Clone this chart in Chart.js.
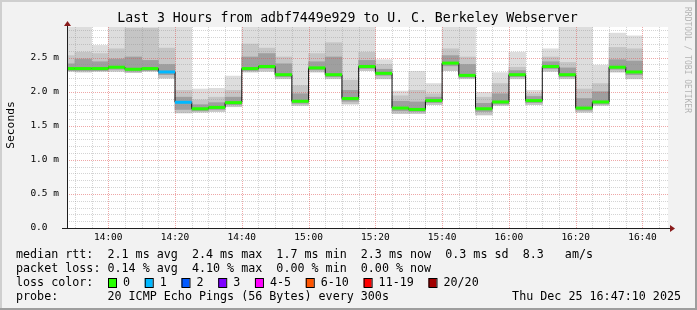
<!DOCTYPE html>
<html>
<head>
<meta charset="utf-8">
<script src="https://cdn.jsdelivr.net/npm/chart.js@4.4.1/dist/chart.umd.min.js"></script>
<style>
  html, body { margin: 0; padding: 0; background: #f2f2f2; }
  #wrap { width: 697px; height: 310px; }
</style>
</head>
<body>
<div id="wrap"><canvas id="smokeChart" width="697" height="310"></canvas></div>
<script>
// 5 minute bins (start of each bin)
var binTimes = ["13:45", "13:50", "13:55", "14:00", "14:05", "14:10", "14:15", "14:20", "14:25", "14:30",
  "14:35", "14:40", "14:45", "14:50", "14:55", "15:00", "15:05", "15:10", "15:15", "15:20",
  "15:25", "15:30", "15:35", "15:40", "15:45", "15:50", "15:55", "16:00", "16:05", "16:10",
  "16:15", "16:20", "16:25", "16:30", "16:35"];

// median rtt, ms
var medianRtt = [2.34, 2.34, 2.34, 2.36, 2.33, 2.34, 2.29, 1.845, 1.75, 1.77,
  1.84, 2.34, 2.37, 2.25, 1.86, 2.35, 2.25, 1.90, 2.37, 2.27,
  1.76, 1.74, 1.87, 2.42, 2.24, 1.75, 1.85, 2.25, 1.87, 2.37,
  2.25, 1.76, 1.85, 2.36, 2.29];

// smoke: spread of the 20 pings per bin, ms
var pingMax = [3.2, 3.2, 2.68, 3.2, 3.2, 3.2, 3.2, 3.2, 2.04, 2.05,
  2.23, 3.2, 3.2, 3.2, 3.2, 3.2, 3.2, 3.2, 3.2, 2.47,
  2.01, 2.30, 2.12, 3.2, 3.2, 1.99, 2.28, 2.58, 2.02, 2.63,
  3.2, 3.2, 2.39, 2.86, 2.82];
var pingUpper = [2.53, 2.58, 2.56, 2.63, 2.93, 2.93, 2.64, 2.02, 1.88, 1.92,
  2.02, 2.70, 2.64, 2.51, 2.09, 2.56, 2.72, 2.17, 2.58, 2.40,
  1.94, 2.02, 1.97, 2.63, 2.51, 1.92, 2.12, 2.36, 1.97, 2.51,
  2.43, 2.04, 2.12, 2.65, 2.63];
var pingNear = [2.41, 2.48, 2.44, 2.48, 2.51, 2.46, 2.40, 1.92, 1.81, 1.84,
  1.92, 2.51, 2.56, 2.41, 1.97, 2.44, 2.51, 2.02, 2.46, 2.33,
  1.86, 1.85, 1.92, 2.53, 2.40, 1.83, 1.97, 2.31, 1.93, 2.44,
  2.35, 1.90, 2.00, 2.47, 2.45];
var pingLow = [2.31, 2.31, 2.31, 2.33, 2.30, 2.31, 2.25, 1.74, 1.72, 1.74,
  1.81, 2.31, 2.34, 2.22, 1.83, 2.32, 2.22, 1.86, 2.34, 2.24,
  1.72, 1.71, 1.84, 2.38, 2.21, 1.71, 1.82, 2.22, 1.84, 2.34,
  2.22, 1.73, 1.82, 2.33, 2.25];
var pingMin = [2.30, 2.29, 2.30, 2.30, 2.28, 2.30, 2.20, 1.69, 1.70, 1.71,
  1.78, 2.29, 2.30, 2.19, 1.80, 2.29, 2.19, 1.82, 2.31, 2.19,
  1.68, 1.68, 1.81, 2.31, 2.19, 1.66, 1.80, 2.19, 1.81, 2.30,
  2.19, 1.70, 1.80, 2.29, 2.19];

// lost pings per bin (of 20)
var lossCount = [0, 0, 0, 0, 0, 0, 1, 1, 0, 0,
  0, 0, 0, 0, 0, 0, 0, 0, 0, 0,
  0, 0, 0, 0, 0, 0, 0, 0, 0, 0,
  0, 0, 0, 0, 0];

var lossLabels = ["0", "1", "2", "3", "4-5", "6-10", "11-19", "20/20"];
var lossColors = ["#26ff00", "#00b8ff", "#0059ff", "#7e00ff", "#ff00ff", "#ff5500", "#ff0000", "#a10000"];

var xTickLabels = ["14:00", "14:20", "14:40", "15:00", "15:20", "15:40", "16:00", "16:20", "16:40"];
var yTickValues = [0, 0.5, 1, 1.5, 2, 2.5];
var yTickLabels = ["0.0  ", "0.5 m", "1.0 m", "1.5 m", "2.0 m", "2.5 m"];

var MONO = "'DejaVu Sans Mono', monospace";

function toMinutes(t) {
  var p = t.split(":");
  return (parseInt(p[0], 10) - 13) * 60 + parseInt(p[1], 10);
}

function lossIndex(n) {
  if (n <= 3) return n;
  if (n <= 5) return 4;
  if (n <= 10) return 5;
  if (n <= 19) return 6;
  return 7;
}

var binCenters = binTimes.map(function (t) { return toMinutes(t) + 2.5; });
var xTickValues = xTickLabels.map(toMinutes);

function band(lo, hi) {
  return binCenters.map(function (x, i) { return { x: x, y: [lo[i], hi[i]] }; });
}

function smokeBand(lo, hi, color, order) {
  return {
    type: "bar",
    data: band(lo, hi),
    backgroundColor: color,
    borderWidth: 0,
    grouped: false,
    barPercentage: 1,
    categoryPercentage: 1,
    clip: 0,
    order: order
  };
}

// background, frame, white canvas
var framePlugin = {
  id: "frame",
  beforeDraw: function (chart) {
    var ctx = chart.ctx, a = chart.chartArea;
    ctx.save();
    ctx.fillStyle = "#f2f2f2";
    ctx.fillRect(0, 0, chart.width, chart.height);
    ctx.fillStyle = "#cfcfcf";
    ctx.fillRect(0, 0, chart.width, 2);
    ctx.fillRect(0, 0, 2, chart.height);
    ctx.fillStyle = "#9e9e9e";
    ctx.fillRect(0, chart.height - 2, chart.width, 2);
    ctx.fillRect(chart.width - 2, 0, 2, chart.height);
    ctx.fillStyle = "#ffffff";
    ctx.fillRect(a.left, a.top, a.right - a.left, a.bottom - a.top);
    ctx.restore();
  }
};

function dotted(ctx, x1, y1, x2, y2, color) {
  ctx.strokeStyle = color;
  ctx.beginPath();
  ctx.moveTo(x1, y1);
  ctx.lineTo(x2, y2);
  ctx.stroke();
}

// dotted grid over the smoke, under the median line
var gridPlugin = {
  id: "rrdgrid",
  afterDatasetDraw: function (chart, args) {
    if (args.index !== 2) return;
    var ctx = chart.ctx, a = chart.chartArea;
    var xs = chart.scales.x, ys = chart.scales.y;
    ctx.save();
    ctx.lineWidth = 1;
    ctx.setLineDash([1, 1]);
    var m, px, v, py;
    for (m = 50; m < 228; m += 5) {
      if (m % 20 === 0) continue;
      px = Math.round(xs.getPixelForValue(m)) + 0.5;
      dotted(ctx, px, a.top, px, a.bottom, "rgba(143,143,143,0.38)");
    }
    for (v = 1; v < 30; v++) {
      if (v % 5 === 0) continue;
      py = Math.round(ys.getPixelForValue(v / 10)) + 0.5;
      dotted(ctx, a.left, py, a.right, py, "rgba(143,143,143,0.38)");
    }
    xTickValues.forEach(function (t) {
      px = Math.round(xs.getPixelForValue(t)) + 0.5;
      dotted(ctx, px, a.top, px, a.bottom, "rgba(222,79,79,0.5)");
    });
    yTickValues.forEach(function (t) {
      if (t === 0) return;
      py = Math.round(ys.getPixelForValue(t)) + 0.5;
      dotted(ctx, a.left, py, a.right, py, "rgba(222,79,79,0.5)");
    });
    ctx.restore();
  },
  afterDatasetsDraw: function (chart) {
    var ctx = chart.ctx, a = chart.chartArea;
    var x0 = Math.round(a.left) + 0.5, y0 = Math.round(a.bottom) + 0.5;
    ctx.save();
    ctx.strokeStyle = "#1f1f1f";
    ctx.lineWidth = 1;
    ctx.beginPath();
    ctx.moveTo(a.left - 5, y0);
    ctx.lineTo(a.right + 3, y0);
    ctx.moveTo(x0, a.bottom + 1);
    ctx.lineTo(x0, a.top - 3);
    ctx.stroke();
    ctx.fillStyle = "#8a1c1c";
    ctx.beginPath();
    ctx.moveTo(a.right + 7, y0);
    ctx.lineTo(a.right + 2, y0 - 3.5);
    ctx.lineTo(a.right + 2, y0 + 3.5);
    ctx.closePath();
    ctx.fill();
    ctx.beginPath();
    ctx.moveTo(x0, a.top - 6);
    ctx.lineTo(x0 - 3.5, a.top - 1);
    ctx.lineTo(x0 + 3.5, a.top - 1);
    ctx.closePath();
    ctx.fill();
    ctx.restore();
  }
};

// title, unit, watermark and the smokeping legend
var textPlugin = {
  id: "texts",
  afterDraw: function (chart) {
    var ctx = chart.ctx;
    ctx.save();
    ctx.fillStyle = "#000";
    ctx.textBaseline = "middle";

    ctx.font = "13.2px " + MONO;
    ctx.textAlign = "center";
    ctx.fillText("Last 3 Hours from adbf7449e929 to U. C. Berkeley Webserver", 347.5, 19);

    ctx.font = "11.3px " + MONO;
    ctx.save();
    ctx.translate(11, 125);
    ctx.rotate(-Math.PI / 2);
    ctx.fillText("Seconds", 0, 0);
    ctx.restore();

    ctx.save();
    ctx.font = "8px " + MONO;
    ctx.fillStyle = "#b4b4b4";
    ctx.translate(687, 60);
    ctx.rotate(Math.PI / 2);
    ctx.fillText("RRDTOOL / TOBI OETIKER", 0, 0);
    ctx.restore();

    ctx.font = "11.7px " + MONO;
    ctx.textAlign = "left";
    ctx.fillText("median rtt:  2.1 ms avg  2.4 ms max  1.7 ms min  2.3 ms now  0.3 ms sd  8.3   am/s", 16, 254.5);
    ctx.fillText("packet loss: 0.14 % avg  4.10 % max  0.00 % min  0.00 % now", 16, 268.5);
    ctx.fillText("loss color:", 16, 282.5);
    ctx.fillText("probe:       20 ICMP Echo Pings (56 Bytes) every 300s", 16, 296.5);
    ctx.textAlign = "right";
    ctx.fillText("Thu Dec 25 16:47:10 2025", 681, 296.5);

    ctx.textAlign = "left";
    var x = 108;
    lossLabels.forEach(function (lbl, i) {
      ctx.fillStyle = lossColors[i];
      ctx.fillRect(x, 278, 8, 9);
      ctx.strokeStyle = "#000";
      ctx.lineWidth = 1;
      ctx.strokeRect(x + 0.5, 278.5, 8, 9);
      ctx.fillStyle = "#000";
      ctx.fillText(lbl, x + 15, 282.5);
      x = x + 15 + ctx.measureText(lbl).width + 14.7;
    });
    ctx.restore();
  }
};

var ctx = document.getElementById("smokeChart").getContext("2d");

var smokeChart = new Chart(ctx, {
  type: "bar",
  data: {
    datasets: [
      smokeBand(pingMin, pingMax, "#dddddd", 10),
      smokeBand(pingMin, pingUpper, "#c5c5c5", 9),
      smokeBand(pingLow, pingNear, "#9f9f9f", 8),
      {
        type: "line",
        data: binCenters.map(function (x, i) { return { x: x, y: medianRtt[i] }; }),
        stepped: "middle",
        borderColor: "#111111",
        borderWidth: 1,
        pointRadius: 0,
        clip: 0,
        order: 2
      },
      {
        type: "line",
        data: binCenters.map(function (x, i) { return { x: x, y: medianRtt[i] }; }),
        showLine: false,
        pointStyle: "line",
        pointRadius: function (c) {
          var xs = c.chart.scales.x;
          return (xs.getPixelForValue(5) - xs.getPixelForValue(0)) / 2;
        },
        pointBorderWidth: 3,
        pointBorderColor: function (c) { return lossColors[lossIndex(lossCount[c.dataIndex])]; },
        pointBackgroundColor: function (c) { return lossColors[lossIndex(lossCount[c.dataIndex])]; },
        clip: 0,
        order: 1
      }
    ]
  },
  options: {
    responsive: false,
    animation: false,
    events: [],
    layout: { padding: { top: 27, right: 29, bottom: 0, left: 0 } },
    plugins: {
      legend: { display: false },
      tooltip: { enabled: false }
    },
    scales: {
      x: {
        type: "linear",
        min: 47.65,
        max: 227.65,
        offset: false,
        grid: { display: false, drawTicks: false, offset: false },
        border: { display: false },
        afterBuildTicks: function (s) {
          s.ticks = xTickValues.map(function (v) { return { value: v }; });
        },
        afterFit: function (s) { s.height = 82; },
        ticks: {
          padding: 4,
          maxRotation: 0,
          autoSkip: false,
          color: "#000",
          font: { family: MONO, size: 9.5 },
          callback: function (v, i) { return xTickLabels[i]; }
        }
      },
      y: {
        min: 0,
        max: 2.95,
        grid: { display: false, drawTicks: false },
        border: { display: false },
        afterBuildTicks: function (s) {
          s.ticks = yTickValues.map(function (v) { return { value: v }; });
        },
        afterFit: function (s) { s.width = 67; },
        ticks: {
          padding: 8,
          color: "#000",
          font: { family: MONO, size: 9.5 },
          callback: function (v, i) { return yTickLabels[i]; }
        }
      }
    }
  },
  plugins: [framePlugin, gridPlugin, textPlugin]
});
</script>
</body>
</html>
